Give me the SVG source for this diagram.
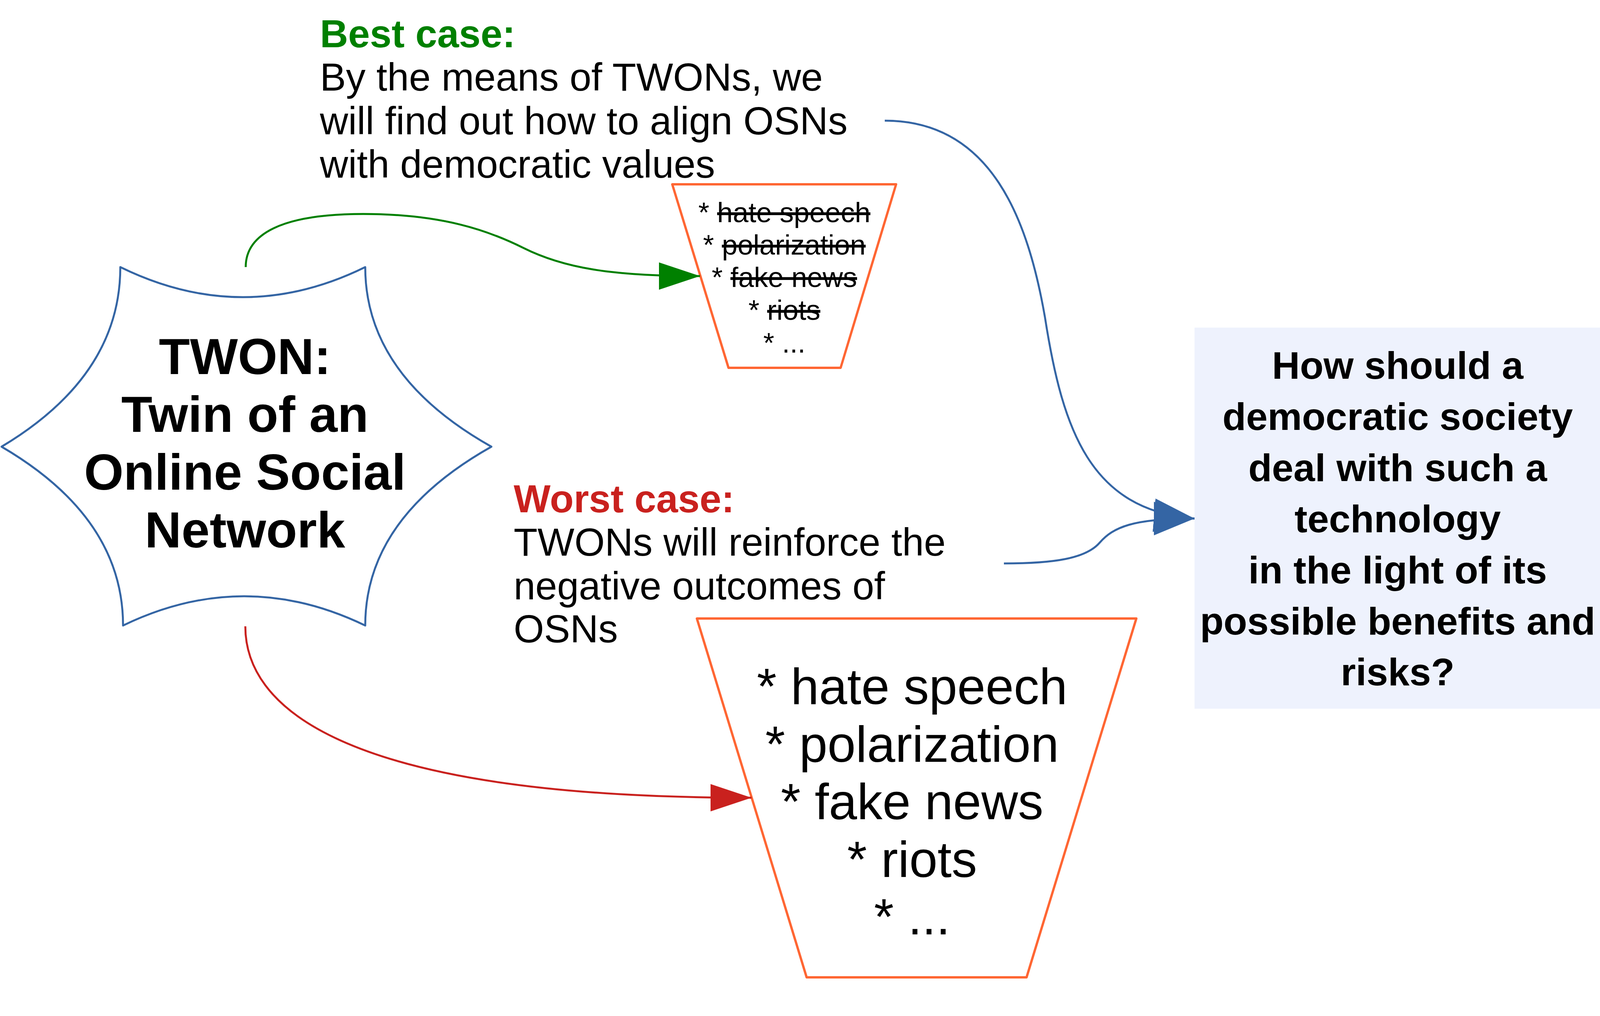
<svg xmlns="http://www.w3.org/2000/svg" width="4374" height="2602" viewBox="0 0 4374 2602">
<style>
text{font-family:"Liberation Sans",Arial,sans-serif;fill:#000}
.b{font-weight:bold}
.mid{text-anchor:middle}
.desc{font-size:100px}
.small{font-size:72px}
.big{font-size:130px}
.q{font-size:99px;font-weight:bold}
.star{font-size:130px;font-weight:bold}
.shape{fill:#fff;stroke-linejoin:round}
.trap{fill:#fff;stroke:#ff6633;stroke-width:6;stroke-linejoin:round}
.con{fill:none;stroke-width:5}
.s{text-decoration:line-through}
</style>
<defs>
<marker id="ag" markerUnits="userSpaceOnUse" markerWidth="106" markerHeight="72" refX="105" refY="35" orient="auto"><path d="M0,0 L105,35 L0,70 z" fill="#008000"/></marker>
<marker id="ar" markerUnits="userSpaceOnUse" markerWidth="106" markerHeight="72" refX="105" refY="35" orient="auto"><path d="M0,0 L105,35 L0,70 z" fill="#c9211e"/></marker>
<marker id="ab" markerUnits="userSpaceOnUse" markerWidth="106" markerHeight="88" refX="104" refY="43" orient="auto"><path d="M0,0 L104,43 L0,86 z" fill="#3465a4"/></marker>
</defs>
<rect width="4374" height="2602" fill="#fff"/>

<g id="twon">
<path class="shape" stroke="#3465a4" stroke-width="5" d="M308,684 Q622,838 935,684 Q935,962 1258,1144 Q935,1326 935,1602 Q625,1452 315,1602 Q315,1326 4,1144 Q308,962 308,684 Z"/>
<text class="star mid" x="627" y="958">TWON:</text>
<text class="star mid" x="627" y="1106">Twin of an</text>
<text class="star mid" x="627" y="1254">Online Social</text>
<text class="star mid" x="627" y="1402">Network</text>
</g>

<g id="best-case">
<text class="desc b" x="819" y="121" style="fill:#008000">Best case:</text>
<text class="desc" x="819" y="232">By the means of TWONs, we</text>
<text class="desc" x="819" y="344">will find out how to align OSNs</text>
<text class="desc" x="819" y="455">with democratic values</text>
</g>

<g id="best-list">
<polygon class="trap" points="1721,472 2294,472 2152,942 1865,942"/>
<text class="small mid" x="2008" y="569">* <tspan class="s">hate speech</tspan></text>
<text class="small mid" x="2008" y="652">* <tspan class="s">polarization</tspan></text>
<text class="small mid" x="2008" y="735">* <tspan class="s">fake news</tspan></text>
<text class="small mid" x="2008" y="819">* <tspan class="s">riots</tspan></text>
<text class="small mid" x="2008" y="903">* ...</text>
</g>

<g id="worst-case">
<text class="desc b" x="1315" y="1312" style="fill:#c9211e">Worst case:</text>
<text class="desc" x="1315" y="1423">TWONs will reinforce the</text>
<text class="desc" x="1315" y="1535">negative outcomes of</text>
<text class="desc" x="1315" y="1645">OSNs</text>
</g>

<g id="worst-list">
<polygon class="trap" points="1784,1584 2909,1584 2628,2503 2065,2503"/>
<text class="big mid" x="2335" y="1803">* hate speech</text>
<text class="big mid" x="2335" y="1951">* polarization</text>
<text class="big mid" x="2335" y="2098">* fake news</text>
<text class="big mid" x="2335" y="2246">* riots</text>
<text class="big mid" x="2335" y="2393">* ...</text>
</g>

<g id="question">
<rect x="3058" y="839" width="1316" height="976" fill="#eef2fd"/>
<text class="q mid" x="3578" y="970">How should a</text>
<text class="q mid" x="3578" y="1101">democratic society</text>
<text class="q mid" x="3578" y="1232">deal with such a</text>
<text class="q mid" x="3578" y="1363">technology</text>
<text class="q mid" x="3578" y="1494">in the light of its</text>
<text class="q mid" x="3578" y="1625">possible benefits and</text>
<text class="q mid" x="3578" y="1755">risks?</text>
</g>

<g id="connectors">
<path class="con" stroke="#008000" marker-end="url(#ag)" d="M629,684 C629,600 720,548 930,548 C1130,548 1250,590 1340,635 C1440,685 1560,707 1792,707"/>
<path class="con" stroke="#c9211e" marker-end="url(#ar)" d="M628,1604 C628,1800 850,2043 1924,2043"/>
<path class="con" stroke="#3465a4" stroke-width="4.5" marker-end="url(#ab)" d="M2570,1443 C2700,1443 2780,1430 2815,1390 C2850,1350 2900,1328 3058,1328"/>
<path class="con" stroke="#3465a4" stroke-width="4.5" marker-end="url(#ab)" d="M2265,309 C2540,309 2632,566 2675,812 C2720,1100 2790,1306 3058,1328"/>
</g>
</svg>
